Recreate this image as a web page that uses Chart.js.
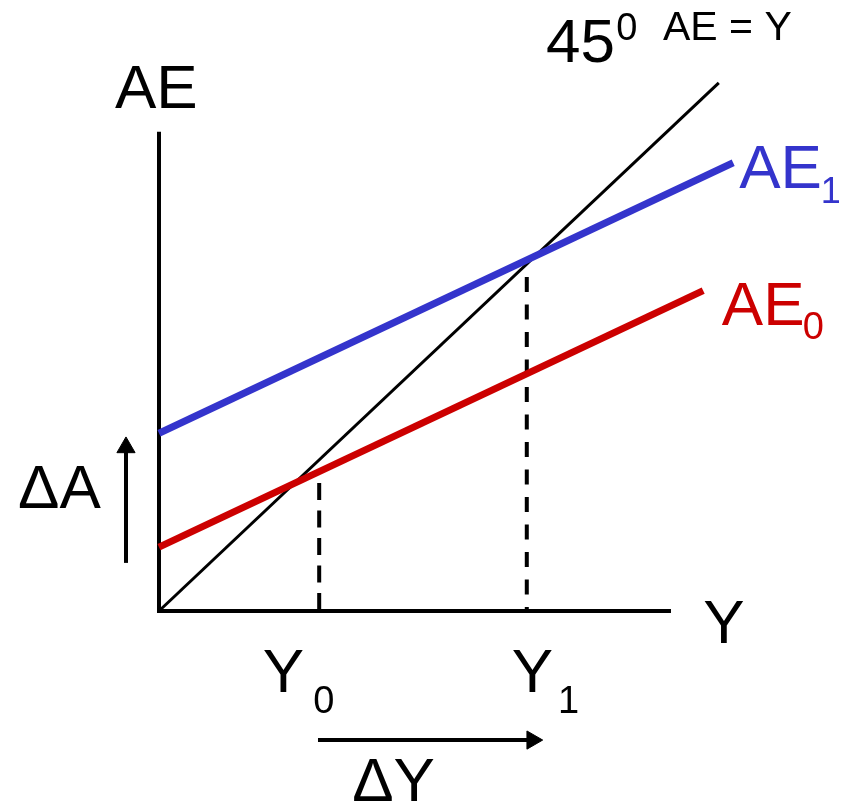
<!DOCTYPE html>
<html>
<head>
<meta charset="utf-8">
<script src="https://cdn.jsdelivr.net/npm/chart.js@4/dist/chart.umd.min.js"></script>
<style>
  html, body { margin: 0; padding: 0; background: #ffffff; }
  #wrap { width: 850px; height: 806px; }
</style>
</head>
<body>
<div id="wrap"><canvas id="c" width="850" height="806"></canvas></div>
<script>
// Keynesian cross: output Y along the horizontal axis, aggregate expenditure AE vertically.

// 45-degree line, AE = Y
const diagX = [0, 93.3];
const diagY = [0, 93.3];

// Expenditure schedules before (AE0) and after (AE1) the autonomous shift
const ae0X = [0, 90.7];
const ae0Y = [11.3, 56.6];
const ae1X = [0, 95.7];
const ae1Y = [31.4, 79.2];

// Equilibrium income guides (drawn from the top down)
const y0GuideX = [26.7, 26.7];
const y0GuideY = [22.6, 0];
const y1GuideX = [61.3, 61.3];
const y1GuideY = [59.0, 0];

// Axis lines
const axisVX = [0, 0];
const axisVY = [0, 84.3];
const axisHX = [0, 85.0];
const axisHY = [0, 0];

// Shift arrows: change in autonomous spending and change in income
const shiftAX = [-5.5, -5.5];
const shiftAY = [8.5, 28.9];
const shiftYX = [26.5, 62.2];
const shiftYY = [-22.8, -22.8];

// Visible value window (the plot fills the whole canvas, labels sit around the axes)
const xRange = [-26.5, 115.17];
const yRange = [-34.45, 107.95];

// Text labels
const BLACK = '#000000';
const BLUE = '#3434CC';
const RED = '#CC0000';
const textLabels = [
  { text: 'AE',     x: -7.33, y: 88.9,  size: 62, color: BLACK },
  { text: '45',     x: 64.5,  y: 97.0,  size: 62, color: BLACK },
  { text: '0',      x: 76.2,  y: 100.9, size: 38, color: BLACK },
  { text: 'AE = Y', x: 84.0,  y: 100.9, size: 41, color: BLACK },
  { text: 'AE',     x: 96.7,  y: 74.7,  size: 62, color: BLUE },
  { text: '1',      x: 110.3, y: 72.1,  size: 36, color: BLUE },
  { text: 'AE',     x: 93.8,  y: 50.5,  size: 62, color: RED },
  { text: '0',      x: 107.3, y: 48.1,  size: 38, color: RED },
  { text: 'Y',      x: 90.7,  y: -5.65, size: 62, color: BLACK },
  { text: 'Y',      x: 17.3,  y: -14.3, size: 62, color: BLACK },
  { text: '0',      x: 25.7,  y: -18.0, size: 38, color: BLACK },
  { text: 'Y',      x: 58.8,  y: -14.3, size: 62, color: BLACK },
  { text: '1',      x: 66.5,  y: -18.0, size: 38, color: BLACK },
  { text: '\u0394A', x: -23.5, y: 18.2, size: 62, color: BLACK },
  { text: '\u0394Y', x: 32.2,  y: -33.6, size: 62, color: BLACK }
];

const pts = (xs, ys) => xs.map((x, i) => ({ x: x, y: ys[i] }));

function segment(xs, ys, color, width, extra) {
  return Object.assign({
    data: pts(xs, ys),
    borderColor: color,
    backgroundColor: color,
    borderWidth: width,
    pointRadius: 0,
    pointHoverRadius: 0,
    fill: false,
    tension: 0,
    clip: false
  }, extra || {});
}

function arrow(xs, ys, rotation) {
  return segment(xs, ys, BLACK, 4, {
    pointRadius: [0, 10.5],
    pointStyle: 'triangle',
    rotation: [rotation, rotation],
    pointBackgroundColor: BLACK,
    pointBorderColor: BLACK,
    pointBorderWidth: 1
  });
}

const labelPlugin = {
  id: 'textLabels',
  afterDatasetsDraw(chart) {
    const ctx = chart.ctx;
    const sx = chart.scales.x, sy = chart.scales.y;
    ctx.save();
    ctx.textBaseline = 'alphabetic';
    ctx.textAlign = 'left';
    textLabels.forEach(l => {
      ctx.font = l.size + 'px "Liberation Sans", Arial, sans-serif';
      ctx.fillStyle = l.color;
      ctx.fillText(l.text, sx.getPixelForValue(l.x), sy.getPixelForValue(l.y));
    });
    ctx.restore();
  }
};

new Chart(document.getElementById('c'), {
  type: 'line',
  data: {
    datasets: [
      segment(ae0X, ae0Y, RED, 7),
      segment(ae1X, ae1Y, BLUE, 7),
      segment(diagX, diagY, BLACK, 3),
      segment(y0GuideX, y0GuideY, BLACK, 4, { borderDash: [17, 10.5] }),
      segment(y1GuideX, y1GuideY, BLACK, 4, { borderDash: [15, 12.5] }),
      segment(axisVX, axisVY, BLACK, 4, { borderCapStyle: 'square' }),
      segment(axisHX, axisHY, BLACK, 4, { borderCapStyle: 'square' }),
      arrow(shiftAX, shiftAY, 0),
      arrow(shiftYX, shiftYY, 90)
    ]
  },
  options: {
    responsive: false,
    animation: false,
    events: [],
    layout: { padding: 0, autoPadding: false },
    plugins: { legend: { display: false }, tooltip: { enabled: false } },
    scales: {
      x: { type: 'linear', min: xRange[0], max: xRange[1], display: false },
      y: { type: 'linear', min: yRange[0], max: yRange[1], display: false }
    }
  },
  plugins: [labelPlugin]
});
</script>
</body>
</html>
